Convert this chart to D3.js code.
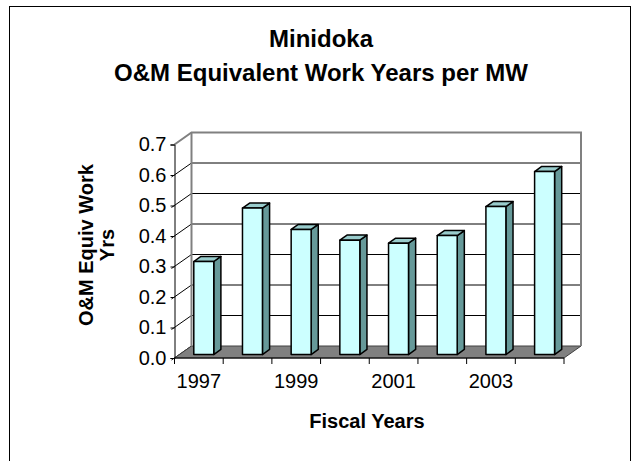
<!DOCTYPE html>
<html>
<head>
<meta charset="utf-8">
<script src="https://cdn.jsdelivr.net/npm/d3@7"></script>
<style>
  body { margin: 0; background: #fff; }
  svg { display: block; font-family: Arial, "Liberation Sans", sans-serif; }
</style>
</head>
<body>
<svg width="632" height="461"></svg>
<script>
const years = ['1997', '1998', '1999', '2000', '2001', '2002', '2003', '2004'];
const workYears = [0.305, 0.48, 0.41, 0.375, 0.365, 0.39, 0.485, 0.60];
const yTicks = [0, 0.1, 0.2, 0.3, 0.4, 0.5, 0.6, 0.7];
const xLabels = ['1997', '1999', '2001', '2003'];

const svg = d3.select('svg');

// 3d depth of the plot box
const depthX = 17, depthY = -12;
const barFront = 0.29, barBack = 0.71;

const x = d3.scaleBand()
    .domain(years)
    .range([174.5, 564])
    .paddingInner(0.59)
    .paddingOuter(0.295);
const step = x.step();
const x0 = 174.5, x1 = 564;

const y = d3.scaleLinear()
    .domain([0, 0.7])
    .range([358, 144.5]);

// chart border
svg.append('rect')
    .attr('x', 9.5).attr('y', 6.5)
    .attr('width', 621).attr('height', 470)
    .attr('fill', '#fff')
    .attr('stroke', '#000')
    .attr('stroke-width', 1);

// back wall
svg.append('rect')
    .attr('x', x0 + depthX).attr('y', y(0.7) + depthY)
    .attr('width', x1 - x0).attr('height', y(0) - y(0.7))
    .attr('fill', '#fff');

// gridlines on back wall
svg.append('g')
    .selectAll('line')
    .data(yTicks.slice(1, -1))
    .enter().append('line')
    .attr('x1', x0 + depthX).attr('x2', x1 + depthX)
    .attr('y1', d => y(d) + depthY).attr('y2', d => y(d) + depthY)
    .attr('stroke', '#000');

// side wall lines
svg.append('g')
    .selectAll('line')
    .data(yTicks.slice(0, -1))
    .enter().append('line')
    .attr('x1', x0 - 3).attr('x2', x0 + depthX)
    .attr('y1', d => y(d) + 2).attr('y2', d => y(d) + depthY)
    .attr('stroke', '#000');

// floor
svg.append('path')
    .attr('d', `M${x0},${y(0)}L${x1},${y(0)}L${x1 + depthX},${y(0) + depthY}L${x0 + depthX},${y(0) + depthY}Z`)
    .attr('fill', '#808080')
    .attr('stroke', '#404040')
    .attr('stroke-width', 1);

// wall outlines
svg.append('path')
    .attr('d', `M${x0},${y(0.7)}L${x0 + depthX},${y(0.7) + depthY}L${x1 + depthX},${y(0.7) + depthY}L${x1 + depthX},${y(0) + depthY}`)
    .attr('fill', 'none')
    .attr('stroke', '#808080')
    .attr('stroke-width', 2);
svg.append('line')
    .attr('x1', x0 + depthX).attr('x2', x0 + depthX)
    .attr('y1', y(0.7) + depthY).attr('y2', y(0) + depthY)
    .attr('stroke', '#808080')
    .attr('stroke-width', 2);

// bars
const fx = depthX * barFront, fy = depthY * barFront;
const dx = depthX * (barBack - barFront), dy = depthY * (barBack - barFront);
const bars = svg.append('g')
    .selectAll('g')
    .data(years.map((yr, i) => ({year: yr, value: workYears[i]})))
    .enter().append('g')
    .attr('stroke', '#000')
    .attr('stroke-width', 1.5)
    .attr('stroke-linejoin', 'round');

bars.append('path')
    .attr('fill', '#669999')
    .attr('d', d => {
        const xr = x(d.year) + x.bandwidth() + fx, yt = y(d.value) + fy, yb = y(0) + fy;
        return `M${xr},${yt}L${xr + dx},${yt + dy}L${xr + dx},${yb + dy}L${xr},${yb}Z`;
    });
bars.append('path')
    .attr('fill', '#99CCCC')
    .attr('d', d => {
        const xl = x(d.year) + fx, xr = xl + x.bandwidth(), yt = y(d.value) + fy;
        return `M${xl},${yt}L${xl + dx},${yt + dy}L${xr + dx},${yt + dy}L${xr},${yt}Z`;
    });
bars.append('rect')
    .attr('fill', '#CCFFFF')
    .attr('x', d => x(d.year) + fx)
    .attr('y', d => y(d.value) + fy)
    .attr('width', x.bandwidth())
    .attr('height', d => y(0) - y(d.value));

// front y axis
const yAxis = svg.append('g')
    .attr('transform', `translate(${x0},0)`)
    .call(d3.axisLeft(y).tickValues(yTicks).tickSize(4).tickPadding(4).tickFormat(d3.format('.1f')));
yAxis.select('.domain').attr('stroke', '#000');
yAxis.selectAll('text')
    .attr('font-size', 20)
    .attr('font-family', 'Arial, "Liberation Sans", sans-serif')
    .attr('fill', '#000');

// front x axis
svg.append('line')
    .attr('x1', x0).attr('x2', x1)
    .attr('y1', y(0)).attr('y2', y(0))
    .attr('stroke', '#000');
svg.append('g')
    .selectAll('line')
    .data(d3.range(years.length + 1))
    .enter().append('line')
    .attr('x1', i => x0 + i * step).attr('x2', i => x0 + i * step)
    .attr('y1', y(0)).attr('y2', y(0) + 6)
    .attr('stroke', '#000');
svg.append('g')
    .selectAll('text')
    .data(xLabels)
    .enter().append('text')
    .attr('x', d => x(d) + x.bandwidth() / 2)
    .attr('y', 388)
    .attr('text-anchor', 'middle')
    .attr('font-size', 20)
    .text(d => d);

// titles
const title = svg.append('text')
    .attr('text-anchor', 'middle')
    .attr('font-size', 24)
    .attr('font-weight', 'bold');
title.append('tspan').attr('x', 321).attr('y', 47).text('Minidoka');
title.append('tspan').attr('x', 321).attr('y', 81).text('O&M Equivalent Work Years per MW');

svg.append('text')
    .attr('x', 367).attr('y', 428)
    .attr('text-anchor', 'middle')
    .attr('font-size', 20)
    .attr('font-weight', 'bold')
    .text('Fiscal Years');

const yTitle = svg.append('text')
    .attr('transform', 'translate(0,245) rotate(-90)')
    .attr('text-anchor', 'middle')
    .attr('font-size', 20)
    .attr('font-weight', 'bold');
yTitle.append('tspan').attr('x', 0).attr('y', 93).text('O&M Equiv Work');
yTitle.append('tspan').attr('x', 0).attr('y', 114).text('Yrs');
</script>
</body>
</html>
